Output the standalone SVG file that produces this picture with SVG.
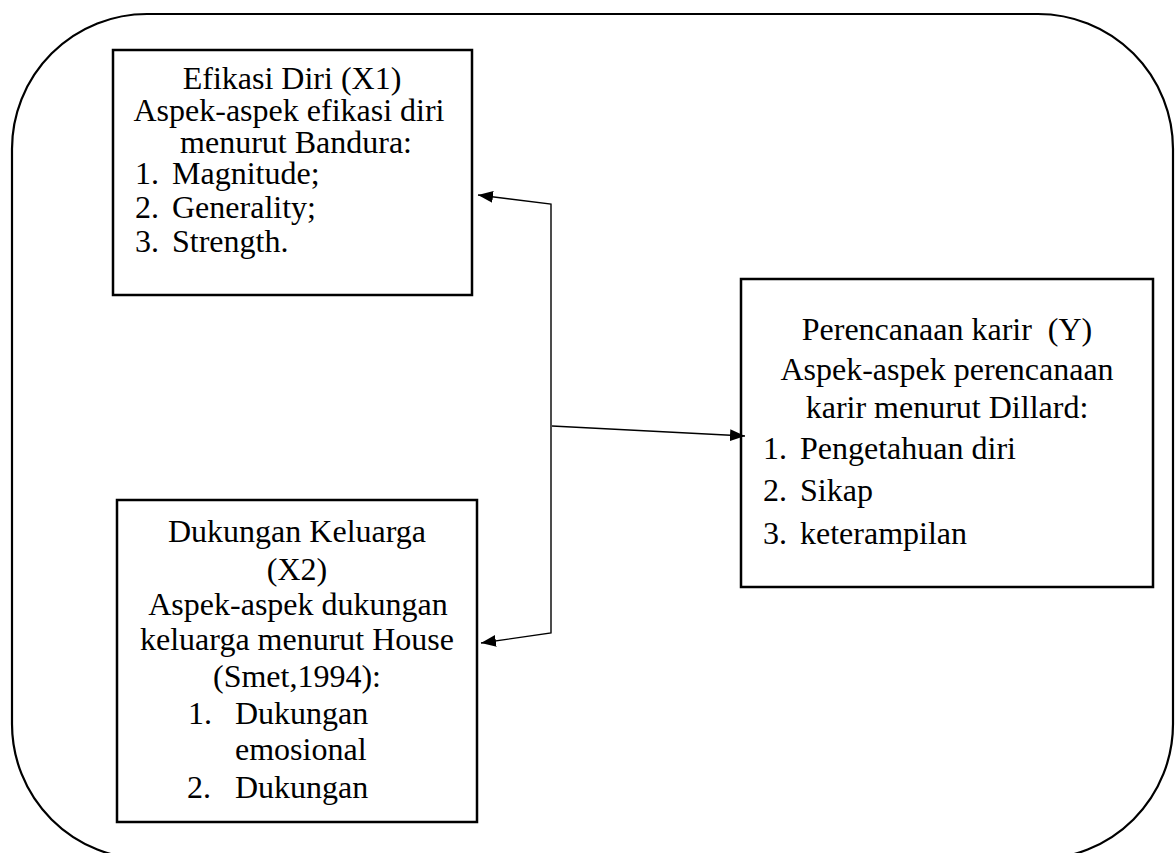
<svg xmlns="http://www.w3.org/2000/svg" width="1176" height="853" viewBox="0 0 1176 853">
<style>
.t{font-family:"Liberation Serif","Times New Roman",serif;font-size:32px;fill:#000}
.c{text-anchor:middle}
.box{fill:#fff;stroke:#000;stroke-width:2.5}
.frame{fill:none;stroke:#000;stroke-width:2.2}
.con{fill:none;stroke:#000;stroke-width:1.4}
</style>
<defs>
<marker id="ah" markerUnits="userSpaceOnUse" markerWidth="16" markerHeight="14" refX="15" refY="6" orient="auto-start-reverse">
<path d="M0,0 L15,6 L0,12 z" fill="#000"/>
</marker>
</defs>
<rect width="1176" height="853" fill="#fff"/>
<rect class="frame" x="12" y="14" width="1161" height="845" rx="135" ry="135"/>

<g id="node-x1">
<rect class="box" x="113" y="50" width="359" height="245"/>
<text class="t c" x="292" y="89">Efikasi Diri (X1)</text>
<text class="t c" x="289" y="121">Aspek-aspek efikasi diri</text>
<text class="t c" x="296" y="153">menurut Bandura:</text>
<text class="t" x="135" y="184">1.</text>
<text class="t" x="172" y="184">Magnitude;</text>
<text class="t" x="135" y="218">2.</text>
<text class="t" x="172" y="218">Generality;</text>
<text class="t" x="135" y="252">3.</text>
<text class="t" x="172" y="252">Strength.</text>
</g>

<g id="node-x2">
<rect class="box" x="117" y="500" width="360" height="322"/>
<text class="t c" x="297" y="542">Dukungan Keluarga</text>
<text class="t c" x="297" y="580">(X2)</text>
<text class="t c" x="298" y="615">Aspek-aspek dukungan</text>
<text class="t c" x="297" y="650">keluarga menurut House</text>
<text class="t c" x="297" y="687">(Smet,1994):</text>
<text class="t" x="188" y="724">1.</text>
<text class="t" x="235" y="724">Dukungan</text>
<text class="t" x="235" y="760">emosional</text>
<text class="t" x="187" y="798">2.</text>
<text class="t" x="235" y="798">Dukungan</text>
</g>

<g id="node-y">
<rect class="box" x="741" y="279" width="412" height="308"/>
<text class="t c" x="947" y="340" style="white-space:pre">Perencanaan karir  (Y)</text>
<text class="t c" x="947" y="380">Aspek-aspek perencanaan</text>
<text class="t c" x="947" y="418">karir menurut Dillard:</text>
<text class="t" x="763" y="459">1.</text>
<text class="t" x="800" y="459">Pengetahuan diri</text>
<text class="t" x="763" y="501">2.</text>
<text class="t" x="800" y="501">Sikap</text>
<text class="t" x="763" y="544">3.</text>
<text class="t" x="800" y="544">keterampilan</text>
</g>

<g id="connectors">
<path class="con" d="M478,195 L551,204 L551,633 L481,643" marker-start="url(#ah)" marker-end="url(#ah)"/>
<path class="con" d="M552,426 L745,436" marker-end="url(#ah)"/>
</g>
</svg>
